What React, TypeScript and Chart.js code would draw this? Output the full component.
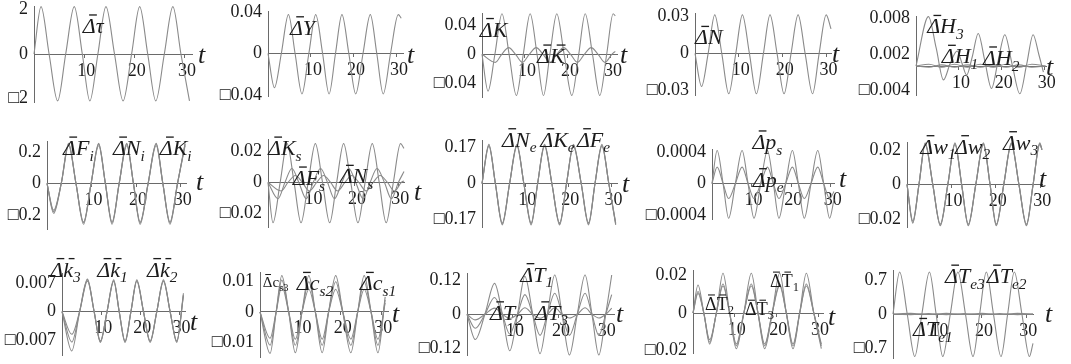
import React, { useEffect, useRef } from "react";
import { Chart, registerables } from "chart.js";

Chart.register(...registerables);

const SERIF = '"Liberation Serif", "DejaVu Serif", serif';
const CURVE = "#8a8a8a";
const AXIS = "#6a6a6a";
const INK = "#1c1c1c";

// ---- response data (t, value) key points ----
const tauT = [0, 1.4, 3.0, 4.7, 6.3, 8.0, 9.6, 11.1, 12.7, 14.3, 16.0, 17.7, 19.4, 21.0, 22.6, 24.2, 25.9, 27.6, 29.2, 30.9];
const tauV = [0, 2.12, 0, -2.1, 0, 2.12, 0, -2.1, 0, 2.12, 0, -2.1, 0, 2.12, 0, -2.1, 0, 2.12, 0, -2.1];

const yT = [0, 1.5, 3.1, 4.75, 6.3, 7.9, 9.5, 11.1, 12.7, 14.2, 15.7, 17.2, 18.8, 20.4, 22.1, 23.8, 25.3, 26.8, 28.5, 30.3, 31];
const yV = [0, -0.033, 0, 0.0375, 0, -0.039, 0, 0.0375, 0, -0.039, 0, 0.0375, 0, -0.039, 0, 0.0375, 0, -0.039, 0, 0.0375, 0.034];

const kT = [0, 1.4, 3.0, 4.65, 6.3, 8.0, 9.6, 11.2, 12.8, 14.3, 15.8, 17.4, 19.1, 20.9, 22.5, 24.0, 25.7, 27.4, 29.0, 30.5, 31];
const kV = [0, -0.05, 0, 0.055, 0, -0.056, 0, 0.055, 0, -0.056, 0, 0.055, 0, -0.056, 0, 0.055, 0, -0.056, 0, 0.055, 0.052];
const kbT = [0, 3.1, 4.6, 6.2, 7.8, 9.4, 11.0, 12.6, 14.2, 15.8, 17.4, 19.0, 20.6, 22.2, 23.8, 25.4, 27.0, 28.6, 30.2, 31];
const kbV = [0, -0.011, 0, 0.009, 0, -0.011, 0, 0.009, 0, -0.011, 0, 0.009, 0, -0.011, 0, 0.009, 0, -0.011, 0, 0.004];

const nT = [0, 1.5, 3.0, 4.5, 6.1, 7.7, 9.3, 10.8, 12.4, 14.0, 15.6, 17.1, 18.7, 20.3, 21.9, 23.5, 25.1, 26.8, 28.3, 29.9, 31];
const nV = [0, -0.027, 0, 0.0315, 0, -0.033, 0, 0.0315, 0, -0.033, 0, 0.0315, 0, -0.033, 0, 0.0315, 0, -0.033, 0, 0.0315, 0.02];

const h3T = [0, 2.9, 4.7, 6.4, 8.0, 9.6, 10.7, 11.8, 13.1, 14.5, 16.0, 17.6, 19.1, 20.7, 22.4, 24.2, 25.8, 27.3, 28.6, 29.7];
const h3V = [0, 0.0082, 0.003, -0.0023, 0.0005, 0.0025, 0.0005, -0.0015, 0.0015, 0.0054, 0.001, -0.0037, 0.0007, 0.0052, 0.0003, -0.0046, 0.0003, 0.0052, 0.002, -0.001];
const h1T = [0, 3, 6, 9, 12, 15, 18, 21, 24, 27, 30.2];
const h1V = [0, 0.0003, -0.0002, 0.0003, -0.0002, 0.0003, -0.0002, 0.0003, -0.0002, 0.0003, 0];
const h2V = [0, -0.0002, 0.0002, -0.0002, 0.0002, -0.0002, 0.0002, -0.0002, 0.0002, -0.0002, 0];

const fiT = [0, 1.5, 3.2, 4.85, 6.5, 8.2, 9.9, 11.6, 13.1, 14.6, 16.2, 17.9, 19.4, 20.9, 22.7, 24.5, 26.0, 27.6, 29.3, 31];
const fiV = [0, -0.18, 0, 0.25, 0, -0.25, 0, 0.25, 0, -0.25, 0, 0.25, 0, -0.25, 0, 0.25, 0, -0.25, 0, 0.25];
const niV = [0, -0.17, 0, 0.24, 0, -0.245, 0, 0.24, 0, -0.245, 0, 0.24, 0, -0.245, 0, 0.24, 0, -0.245, 0, 0.24];
const kiV = [0, -0.19, 0, 0.255, 0, -0.26, 0, 0.255, 0, -0.26, 0, 0.255, 0, -0.26, 0, 0.255, 0, -0.26, 0, 0.255];

const ksT = [0, 1.15, 2.8, 4.4, 6.0, 7.6, 9.25, 10.9, 12.55, 14.2, 15.8, 17.4, 19.05, 20.7, 22.35, 24.0, 25.6, 27.2, 28.85, 30.5, 31.3];
const ksV = [0, -0.026, 0, 0.025, 0, -0.026, 0, 0.025, 0, -0.026, 0, 0.025, 0, -0.026, 0, 0.025, 0, -0.026, 0, 0.025, 0.022];
const fsT = [0, 2.3, 3.9, 5.5, 7.1, 8.8, 10.4, 12.1, 13.7, 15.3, 17.0, 18.6, 20.2, 21.9, 23.5, 25.1, 26.8, 28.4, 30.0, 31.3];
const fsV = [0, -0.0105, 0, 0.009, 0, -0.0105, 0, 0.009, 0, -0.0105, 0, 0.009, 0, -0.0105, 0, 0.009, 0, -0.0105, 0, 0.007];
const nsT = [0, 3.0, 4.6, 6.3, 7.9, 9.5, 11.2, 12.8, 14.4, 16.0, 17.7, 19.3, 20.9, 22.6, 24.2, 25.8, 27.5, 29.1, 30.7, 31.3];
const nsV = [0, -0.0055, 0, 0.0045, 0, -0.0055, 0, 0.0045, 0, -0.0055, 0, 0.0045, 0, -0.0055, 0, 0.0045, 0, -0.0055, 0, 0.001];

const neT = [0, 1.6, 3.1, 4.7, 6.4, 8.1, 9.7, 11.4, 12.9, 14.5, 16.2, 18.0, 19.6, 21.2, 23.0, 24.7, 26.2, 27.8, 29.4, 31];
const neV = [0, 0.18, 0, -0.19, 0, 0.18, 0, -0.19, 0, 0.18, 0, -0.19, 0, 0.18, 0, -0.19, 0, 0.18, 0, -0.19];
const keV = [0, 0.175, 0, -0.185, 0, 0.175, 0, -0.185, 0, 0.175, 0, -0.185, 0, 0.175, 0, -0.185, 0, 0.175, 0, -0.185];
const feV = [0, 0.185, 0, -0.195, 0, 0.185, 0, -0.195, 0, 0.185, 0, -0.195, 0, 0.185, 0, -0.195, 0, 0.185, 0, -0.195];

const psT = [0, 1.3, 2.8, 4.2, 5.9, 7.6, 9.1, 10.6, 12.3, 14.0, 15.5, 16.9, 18.6, 20.3, 21.8, 23.3, 25.0, 26.7, 28.2, 29.7, 30.8];
const psV = [0, 0.00042, 0, -0.00044, 0, 0.00042, 0, -0.00044, 0, 0.00042, 0, -0.00044, 0, 0.00042, 0, -0.00044, 0, 0.00042, 0, -0.00044, -0.0002];
const peV = [0, 0.00021, 0, -0.00019, 0, 0.00021, 0, -0.00019, 0, 0.00021, 0, -0.00019, 0, 0.00021, 0, -0.00019, 0, 0.00021, 0, -0.00019, -0.0001];

const wT = [0, 1.3, 2.7, 4.1, 5.8, 7.5, 9.2, 10.8, 12.3, 13.8, 15.5, 17.2, 18.7, 20.1, 21.8, 23.5, 25.2, 26.9, 28.4, 29.9, 30.4];
const w1V = [0, -0.022, 0, 0.0235, 0, -0.0235, 0, 0.0235, 0, -0.0235, 0, 0.0235, 0, -0.0235, 0, 0.0235, 0, -0.0235, 0, 0.0235, 0.02];
const w2V = [0, -0.021, 0, 0.023, 0, -0.023, 0, 0.023, 0, -0.023, 0, 0.023, 0, -0.023, 0, 0.023, 0, -0.023, 0, 0.023, 0.02];
const w3V = [0, -0.0225, 0, 0.024, 0, -0.024, 0, 0.024, 0, -0.024, 0, 0.024, 0, -0.024, 0, 0.024, 0, -0.024, 0, 0.024, 0.02];

const kkT = [0, 2.5, 4.5, 6.5, 8.2, 9.8, 11.5, 13.2, 14.6, 16.1, 17.6, 19.1, 20.8, 22.5, 24.2, 25.9, 27.6, 29.3, 31];
const k3V = [0, -0.0097, 0, 0.008, 0, -0.0076, 0, 0.0078, 0, -0.0076, 0, 0.0078, 0, -0.0076, 0, 0.0078, 0, -0.0076, 0.0045];
const k1V = [0, -0.0056, 0, 0.0075, 0, -0.0072, 0, 0.0074, 0, -0.0072, 0, 0.0074, 0, -0.0072, 0, 0.0074, 0, -0.0072, 0.004];
const k2V = [0, -0.0075, 0, 0.0078, 0, -0.0074, 0, 0.0076, 0, -0.0074, 0, 0.0076, 0, -0.0074, 0, 0.0076, 0, -0.0074, 0.004];

const csT = [0, 2.5, 4.0, 5.4, 7.1, 8.75, 10.4, 12.1, 13.7, 15.4, 17.0, 18.75, 20.5, 22.5, 24.2, 25.8, 27.5, 29.2, 31];
const cs3V = [0, -0.0137, 0, 0.012, 0, -0.0135, 0, 0.012, 0, -0.0135, 0, 0.012, 0, -0.0135, 0, 0.012, 0, -0.0135, 0.005];
const cs2V = [0, -0.0087, 0, 0.0085, 0, -0.009, 0, 0.0075, 0, -0.009, 0, 0.0075, 0, -0.009, 0, 0.0075, 0, -0.009, 0.003];
const cs1V = [0, -0.011, 0, 0.0105, 0, -0.011, 0, 0.01, 0, -0.011, 0, 0.01, 0, -0.011, 0, 0.01, 0, -0.011, 0.004];

const t1T = [0, 1.8, 3.9, 6.0, 7.7, 9.3, 11.0, 12.6, 14.3, 15.9, 17.5, 19.1, 20.7, 22.3, 24.0, 25.7, 27.2, 28.7, 30.2, 31.5];
const t1V = [0, -0.09, 0, 0.11, 0, -0.13, 0, 0.135, 0, -0.14, 0, 0.14, 0, -0.145, 0, 0.14, 0, -0.145, 0, 0.14];
const t2V = [0, -0.05, 0, 0.06, 0, -0.07, 0, 0.07, 0, -0.075, 0, 0.075, 0, -0.075, 0, 0.075, 0, -0.075, 0, 0.07];
const t3V = [0, -0.02, 0, 0.022, 0, -0.015, 0, 0.023, 0, -0.014, 0, 0.023, 0, -0.013, 0, 0.023, 0, -0.013, 0, 0.022];

const tbT = [0, 1.2, 2.6, 4.0, 5.6, 7.2, 8.8, 10.4, 12.2, 14.0, 15.6, 17.2, 19.0, 20.8, 22.4, 24.0, 25.6, 27.2, 29.0, 30.8];
const tb1V = [0, 0.015, 0, -0.0142, 0, 0.0213, 0, -0.019, 0, 0.0213, 0, -0.019, 0, 0.0213, 0, -0.019, 0, 0.0213, 0, -0.019];
const tb2V = [0, 0.0105, 0, -0.0155, 0, 0.0145, 0, -0.0165, 0, 0.0145, 0, -0.0165, 0, 0.0145, 0, -0.0165, 0, 0.0145, 0, -0.0165];
const tb3V = [0, 0.0115, 0, -0.0165, 0, 0.0155, 0, -0.0175, 0, 0.0155, 0, -0.0175, 0, 0.0155, 0, -0.0175, 0, 0.0155, 0, -0.0175];

const teT = [0, 1.5, 3.2, 4.9, 6.5, 8.2, 9.7, 11.2, 12.9, 14.6, 16.3, 18.0, 19.5, 21.0, 22.6, 24.3, 25.8, 27.3, 29.0, 30.7, 31.5];
const te3V = [0, 0.86, 0, -0.87, 0, 0.86, 0, -0.87, 0, 0.86, 0, -0.87, 0, 0.86, 0, -0.87, 0, 0.86, 0, -0.87, -0.6];
const te1T = [0, 4, 8, 12, 16, 20, 24, 28, 31.5];
const te1V = [0, -0.012, 0.01, -0.012, 0.01, -0.012, 0.01, -0.012, 0];
const te2V = [0, 0.012, -0.01, 0.012, -0.01, 0.012, -0.01, 0.012, 0];

// ---- tick values ----
const tTicks = [10, 20, 30];

type Seg = { s: string; bar?: boolean; sub?: boolean };
type Note = { t: number; v: number; parts: Seg[]; size?: number; upright?: boolean };
type Panel = {
  left: number; zero: number; pxT: number; pxV: number;
  tMax: number; vMin: number; vMax: number;
  ticks: number[];
  curves: [number[], number[]][];
  notes: Note[];
  tOff: [number, number];
};

const D = (rest: string, sub?: string, barRest = false): Seg[] => {
  const p: Seg[] = [{ s: "Δ", bar: true }, { s: rest, bar: barRest }];
  if (sub) p.push({ s: sub, sub: true });
  return p;
};

const panels: Panel[] = [
  { left: 34, zero: 54, pxT: 5.02, pxV: 22.3, tMax: 31.4, vMin: -2.15, vMax: 2.15, ticks: [-2, 0, 2],
    curves: [[tauT, tauV]], notes: [{ t: 9.7, v: 0.94, parts: D("τ") }], tOff: [6, 9] },
  { left: 268, zero: 54, pxT: 4.3, pxV: 1040, tMax: 31.4, vMin: -0.041, vMax: 0.041, ticks: [-0.04, 0, 0.04],
    curves: [[yT, yV]], notes: [{ t: 5.1, v: 0.018, parts: D("Y") }], tOff: [4, 9] },
  { left: 482, zero: 54, pxT: 4.3, pxV: 737, tMax: 31.4, vMin: -0.058, vMax: 0.056, ticks: [-0.04, 0, 0.04],
    curves: [[kT, kV], [kbT, kbV]], notes: [{ t: -0.5, v: 0.024, parts: D("K") }, { t: 12.8, v: -0.012, parts: D("K", undefined, true) }], tOff: [3, 9] },
  { left: 695, zero: 54, pxT: 4.4, pxV: 1230, tMax: 31, vMin: -0.034, vMax: 0.033, ticks: [-0.03, 0, 0.03],
    curves: [[nT, nV]], notes: [{ t: 0, v: 0.0073, parts: D("N") }], tOff: [1, 9] },
  { left: 916, zero: 66, pxT: 4.3, pxV: 6000, tMax: 30.3, vMin: -0.0048, vMax: 0.0083, ticks: [-0.004, 0.002, 0.008],
    curves: [[h3T, h3V], [h1T, h1V], [h1T, h2V]],
    notes: [{ t: 2.6, v: 0.0054, parts: D("H", "3") }, { t: 6, v: 0.00045, parts: D("H", "1") }, { t: 15.6, v: 0.00017, parts: D("H", "2") }], tOff: [0, 9] },

  { left: 47, zero: 183.3, pxT: 4.47, pxV: 158, tMax: 31.2, vMin: -0.29, vMax: 0.27, ticks: [-0.2, 0, 0.2],
    curves: [[fiT, fiV], [fiT, niV], [fiT, kiV]],
    notes: [{ t: 3.6, v: 0.18, parts: D("F", "i") }, { t: 14.8, v: 0.18, parts: D("N", "i") }, { t: 25.3, v: 0.18, parts: D("K", "i") }], tOff: [10, 7] },
  { left: 268, zero: 182.3, pxT: 4.35, pxV: 1550, tMax: 31.3, vMin: -0.0287, vMax: 0.028, ticks: [-0.02, 0, 0.02],
    curves: [[ksT, ksV], [fsT, fsV], [nsT, nsV]],
    notes: [{ t: 0, v: 0.0176, parts: D("K", "s") }, { t: 5.7, v: -0.0017, parts: D("F", "s") }, { t: 16.5, v: -0.0006, parts: D("N", "s") }], tOff: [10, 18] },
  { left: 482, zero: 183.3, pxT: 4.3, pxV: 211, tMax: 31.3, vMin: -0.205, vMax: 0.205, ticks: [-0.17, 0, 0.17],
    curves: [[neT, neV], [neT, keV], [neT, feV]],
    notes: [{ t: 4.65, v: 0.173, parts: D("N", "e") }, { t: 13.5, v: 0.173, parts: D("K", "e") }, { t: 22, v: 0.173, parts: D("F", "e") }], tOff: [5, 8] },
  { left: 712, zero: 183.3, pxT: 3.95, pxV: 79000, tMax: 30.8, vMin: -0.00045, vMax: 0.00044, ticks: [-0.0004, 0, 0.0004],
    curves: [[psT, psV], [psT, peV]],
    notes: [{ t: 10.2, v: 0.00044, parts: D("p", "s") }, { t: 10.3, v: -0.00004, parts: D("p", "e") }], tOff: [5, 3] },
  { left: 907, zero: 184, pxT: 4.45, pxV: 1730, tMax: 30.4, vMin: -0.0247, vMax: 0.0245, ticks: [-0.02, 0, 0.02],
    curves: [[wT, w1V], [wT, w2V], [wT, w3V]],
    notes: [{ t: 3, v: 0.0177, parts: D("w", "1") }, { t: 10.8, v: 0.0177, parts: D("w", "2") }, { t: 21.6, v: 0.02, parts: D("w", "3") }], tOff: [-3, 3] },

  { left: 62, zero: 311.7, pxT: 3.93, pxV: 4060, tMax: 31.4, vMin: -0.0107, vMax: 0.0095, ticks: [-0.007, 0, 0.007],
    curves: [[kkT, k3V], [kkT, k1V], [kkT, k2V]],
    notes: [{ t: -3, v: 0.0086, parts: D("k", "3", true) }, { t: 9, v: 0.0086, parts: D("k", "1", true) }, { t: 21.7, v: 0.0086, parts: D("k", "2", true) }], tOff: [5, 18] },
  { left: 260, zero: 311.7, pxT: 4.04, pxV: 3030, tMax: 31.7, vMin: -0.0149, vMax: 0.0132, ticks: [-0.01, 0, 0.01],
    curves: [[csT, cs3V], [csT, cs2V], [csT, cs1V]],
    notes: [{ t: 0.7, v: 0.0083, parts: [{ s: "Δ", bar: true }, { s: "c" }, { s: "s3", sub: true }], size: 15, upright: true },
      { t: 9.1, v: 0.0071, parts: D("c", "s2") }, { t: 24.7, v: 0.0071, parts: D("c", "s1") }], tOff: [4, 10] },
  { left: 467, zero: 314.5, pxT: 4.6, pxV: 280, tMax: 32, vMin: -0.145, vMax: 0.147, ticks: [-0.12, 0, 0.12],
    curves: [[t1T, t1V], [t1T, t2V], [t1T, t3V]],
    notes: [{ t: 11.6, v: 0.116, parts: D("T", "1") }, { t: 5, v: -0.02, parts: D("T", "2") }, { t: 14.8, v: -0.02, parts: D("T", "3") }], tOff: [2, 8] },
  { left: 693, zero: 313.3, pxT: 4.17, pxV: 1880, tMax: 31.2, vMin: -0.0213, vMax: 0.023, ticks: [-0.02, 0, 0.02],
    curves: [[tbT, tb1V], [tbT, tb2V], [tbT, tb3V]],
    notes: [{ t: 18.5, v: 0.014, parts: D("T", "1", true), size: 18, upright: true },
      { t: 2.9, v: 0.0018, parts: D("T", "2", true), size: 18, upright: true },
      { t: 12.5, v: -0.001, parts: D("T", "3", true), size: 18, upright: true }], tOff: [5, 12] },
  { left: 893, zero: 314, pxT: 4.45, pxV: 49, tMax: 31.5, vMin: -0.9, vMax: 0.9, ticks: [-0.7, 0, 0.7],
    curves: [[teT, te3V], [te1T, te1V], [te1T, te2V]],
    notes: [{ t: 11.7, v: 0.63, parts: D("T", "e3") }, { t: 21.1, v: 0.63, parts: D("T", "e2") }, { t: 4.5, v: -0.46, parts: D("T", "e1") }], tOff: [12, 8] },
];

const tickText = (v: number) => (v < 0 ? "□" + String(-v) : String(v));

function drawNote(ctx: CanvasRenderingContext2D, x: number, y: number, n: Note) {
  const size = n.size ?? 22;
  const style = n.upright ? "" : "italic ";
  let cx = x;
  for (const seg of n.parts) {
    const fs = seg.sub ? size * 0.7 : size;
    ctx.font = `${style}${fs}px ${SERIF}`;
    const yy = seg.sub ? y + size * 0.25 : y;
    ctx.fillText(seg.s, cx, yy);
    const w = ctx.measureText(seg.s).width;
    if (seg.bar) {
      const by = yy - fs * 0.82;
      const slant = n.upright ? 0 : fs * 0.14;
      ctx.lineWidth = Math.max(1, fs * 0.06);
      ctx.beginPath();
      ctx.moveTo(cx + w * 0.25 + slant, by);
      ctx.lineTo(cx + w * 0.85 + slant, by);
      ctx.stroke();
    }
    cx += w;
  }
}

const PL = 24, PT = 30, PR = 44, PB = 40, YW = 80;

function PanelChart({ p }: { p: Panel }) {
  const ref = useRef<HTMLCanvasElement>(null);
  const w = p.tMax * p.pxT;
  const h = (p.vMax - p.vMin) * p.pxV;
  const top = p.zero - p.vMax * p.pxV;
  const cw = Math.round(w + PL + YW + PR);
  const chh = Math.round(h + PT + PB);
  const cl = Math.round(p.left - PL - YW);
  const ct = Math.round(top - PT);

  useEffect(() => {
    const notes = {
      id: "notes",
      afterDatasetsDraw(chart: any) {
        const { ctx, chartArea, scales } = chart;
        ctx.save();
        ctx.fillStyle = INK;
        ctx.strokeStyle = INK;
        ctx.textAlign = "left";
        ctx.textBaseline = "alphabetic";
        for (const n of p.notes) {
          drawNote(ctx, scales.x.getPixelForValue(n.t), scales.y.getPixelForValue(n.v), n);
        }
        ctx.font = `italic 26px ${SERIF}`;
        ctx.fillText("t", chartArea.right + p.tOff[0], scales.y.getPixelForValue(0) + p.tOff[1]);
        ctx.restore();
      },
    };
    const chart = new Chart(ref.current as HTMLCanvasElement, {
      type: "line",
      data: {
        datasets: p.curves.map(([ts, vs]) => ({
          data: ts.map((t, i) => ({ x: t, y: vs[i] })),
          borderColor: CURVE,
          borderWidth: 1.1,
          pointRadius: 0,
          fill: false,
          cubicInterpolationMode: "monotone" as const,
          clip: false as any,
        })),
      },
      options: {
        responsive: false,
        animation: false,
        events: [],
        layout: { padding: { left: PL, top: PT, right: PR, bottom: PB }, autoPadding: false },
        plugins: { legend: { display: false }, tooltip: { enabled: false } },
        scales: {
          x: {
            type: "linear",
            min: 0,
            max: p.tMax,
            bounds: "data",
            position: { y: 0 } as any,
            grid: { display: true, drawOnChartArea: false, drawTicks: true, tickLength: 3, color: AXIS },
            border: { display: true, color: AXIS, width: 1 },
            ticks: { color: INK, font: { family: SERIF, size: 18 }, padding: 3, labelOffset: 2, maxRotation: 0, autoSkip: false },
            afterBuildTicks: (axis: any) => { axis.ticks = tTicks.map((v) => ({ value: v })); },
          },
          y: {
            type: "linear",
            min: p.vMin,
            max: p.vMax,
            bounds: "data",
            position: "left",
            grid: { display: false, drawTicks: false, tickLength: 0 },
            border: { display: true, color: AXIS, width: 1 },
            ticks: { color: INK, font: { family: SERIF, size: 18 }, padding: 6, autoSkip: false, callback: (v: any) => tickText(Number(v)) },
            afterBuildTicks: (axis: any) => { axis.ticks = p.ticks.map((v) => ({ value: v })); },
            afterFit: (s: any) => { s.width = YW; s.paddingTop = 0; s.paddingBottom = 0; },
          },
        },
      },
      plugins: [notes],
    } as any);
    return () => chart.destroy();
  }, []);

  return (
    <canvas
      ref={ref}
      width={cw}
      height={chh}
      style={{ position: "absolute", left: cl, top: ct, width: cw, height: chh }}
    />
  );
}

export default function App() {
  return (
    <div style={{ position: "fixed", left: 0, top: 0, width: 1071, height: 364, background: "#fff", overflow: "hidden" }}>
      {panels.map((p, i) => (
        <PanelChart key={i} p={p} />
      ))}
    </div>
  );
}
